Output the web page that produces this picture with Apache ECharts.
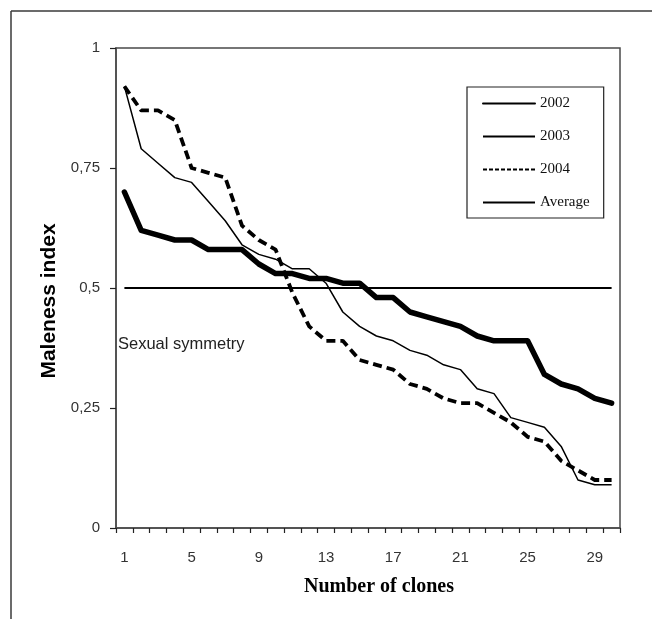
<!DOCTYPE html>
<html>
<head>
<meta charset="utf-8">
<script src="https://cdn.jsdelivr.net/npm/echarts@6/dist/echarts.min.js"></script>
<style>
html,body{margin:0;padding:0;background:#fff;}
#main{width:652px;height:619px;}
</style>
</head>
<body>
<div id="main"></div>
<script>
const categories = ['1','2','3','4','5','6','7','8','9','10','11','12','13','14','15','16','17','18','19','20','21','22','23','24','25','26','27','28','29','30'];
const values2002 = [0.70,0.62,0.61,0.60,0.60,0.58,0.58,0.58,0.55,0.53,0.53,0.52,0.52,0.51,0.51,0.48,0.48,0.45,0.44,0.43,0.42,0.40,0.39,0.39,0.39,0.32,0.30,0.29,0.27,0.26];
const values2003 = [0.92,0.79,0.76,0.73,0.72,0.68,0.64,0.59,0.57,0.56,0.54,0.54,0.51,0.45,0.42,0.40,0.39,0.37,0.36,0.34,0.33,0.29,0.28,0.23,0.22,0.21,0.17,0.10,0.09,0.09];
const values2004 = [0.92,0.87,0.87,0.85,0.75,0.74,0.73,0.63,0.60,0.58,0.49,0.42,0.39,0.39,0.35,0.34,0.33,0.30,0.29,0.27,0.26,0.26,0.24,0.22,0.19,0.18,0.14,0.12,0.10,0.10];
const valuesAverage = [0.5,0.5,0.5,0.5,0.5,0.5,0.5,0.5,0.5,0.5,0.5,0.5,0.5,0.5,0.5,0.5,0.5,0.5,0.5,0.5,0.5,0.5,0.5,0.5,0.5,0.5,0.5,0.5,0.5,0.5];
const seriesNames = ['2002','2003','2004','Average'];
const yTickLabels = {0:'0',0.25:'0,25',0.5:'0,5',0.75:'0,75',1:'1'};

const chart = echarts.init(document.getElementById('main'), null, {renderer:'canvas'});
const axisColor = '#4a4a4a';
chart.setOption({
  animation:false,
  backgroundColor:'#ffffff',
  color:['#000','#000','#000','#000'],
  grid:{left:116, top:48, right:32, bottom:91, show:true, borderColor:axisColor, borderWidth:1.5, containLabel:false},
  legend:{
    orient:'vertical', left:467, top:87,
    padding:[9,14,8,15], itemGap:18, itemWidth:52, itemHeight:14,
    borderColor:'#222', borderWidth:1.2, backgroundColor:'#fff',
    itemStyle:{opacity:0, borderWidth:0},
    textStyle:{fontFamily:'"Liberation Serif","Times New Roman",serif', fontSize:15, color:'#111'},
    data:[
      {name:seriesNames[0], lineStyle:{width:2, type:'solid'}},
      {name:seriesNames[1], lineStyle:{width:2, type:'solid'}},
      {name:seriesNames[2], lineStyle:{width:2, type:[4,2]}},
      {name:seriesNames[3], lineStyle:{width:2, type:'solid'}}
    ]
  },
  xAxis:{
    type:'category', data:categories, boundaryGap:true,
    name:'Number of clones', nameLocation:'middle', nameGap:49,
    nameTextStyle:{fontFamily:'"Liberation Serif","Times New Roman",serif', fontWeight:'bold', fontSize:20, color:'#000', padding:[0,0,0,22]},
    axisLine:{lineStyle:{color:axisColor, width:1.5}},
    axisTick:{show:true, inside:false, length:5, interval:0, alignWithLabel:false, lineStyle:{color:'#222', width:1.2}},
    axisLabel:{interval:3, margin:22, fontFamily:'"Liberation Sans",Arial,sans-serif', fontSize:15, color:'#333'},
    splitLine:{show:false}
  },
  yAxis:{
    type:'value', min:0, max:1, interval:0.25,
    name:'Maleness index', nameLocation:'middle', nameGap:48,
    nameTextStyle:{fontFamily:'"Liberation Sans",Arial,sans-serif', fontWeight:'bold', fontSize:21, color:'#000', padding:[0,26,0,0]},
    axisLine:{show:true, lineStyle:{color:axisColor, width:1.5}},
    axisTick:{show:true, inside:false, length:6, lineStyle:{color:'#222', width:1.2}},
    axisLabel:{margin:16, fontFamily:'"Liberation Sans",Arial,sans-serif', fontSize:15, color:'#333',
      formatter:function(v){ return yTickLabels[v] !== undefined ? yTickLabels[v] : String(v).replace('.',','); }},
    splitLine:{show:false}
  },
  series:[
    {name:seriesNames[0], type:'line', data:values2002, symbol:'none', z:4,
      lineStyle:{color:'#000', width:5.5, cap:'round', join:'round'}},
    {name:seriesNames[1], type:'line', data:values2003, symbol:'none', z:3,
      lineStyle:{color:'#000', width:1.5, join:'round'}},
    {name:seriesNames[2], type:'line', data:values2004, symbol:'none', z:3,
      lineStyle:{color:'#000', width:3.8, type:[9,5], join:'round'}},
    {name:seriesNames[3], type:'line', data:valuesAverage, symbol:'none', z:2,
      lineStyle:{color:'#000', width:2}}
  ],
  graphic:[
    {type:'line', shape:{x1:11, y1:11, x2:652, y2:11}, style:{stroke:'#3a3a3a', lineWidth:1.5}},
    {type:'line', shape:{x1:11, y1:11, x2:11, y2:619}, style:{stroke:'#3a3a3a', lineWidth:1.5}},
    {type:'text', left:118, top:336, style:{text:'Sexual symmetry', fontFamily:'"Liberation Sans",Arial,sans-serif', fontSize:16.5, fill:'#222'}}
  ]
});
</script>
</body>
</html>
